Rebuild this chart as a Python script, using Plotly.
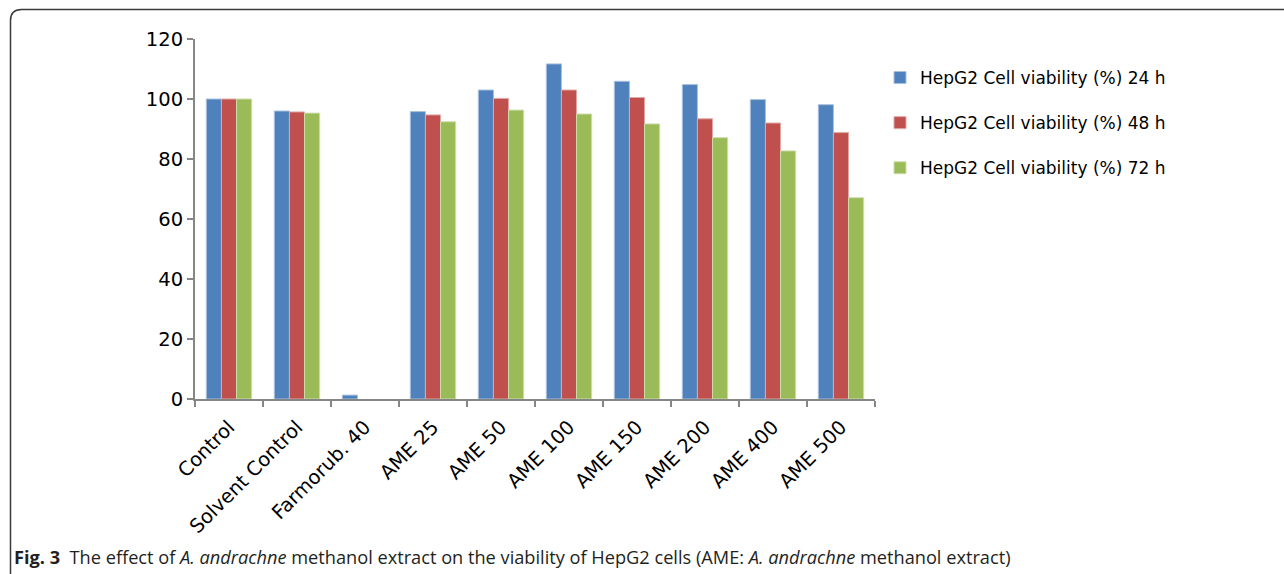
import plotly.graph_objects as go

# HepG2 viability by treatment and exposure time
categories = ["Control", "Solvent Control", "Farmorub. 40", "AME 25", "AME 50",
              "AME 100", "AME 150", "AME 200", "AME 400", "AME 500"]
viability_24h = [100.0, 96.0, 1.3, 95.8, 103.0, 111.7, 105.9, 104.8, 99.8, 98.1]
viability_48h = [100.0, 95.7, 0.0, 94.7, 100.2, 103.0, 100.5, 93.4, 92.0, 88.8]
viability_72h = [100.0, 95.3, 0.0, 92.4, 96.3, 95.0, 91.7, 87.1, 82.7, 67.1]
series_names = ["HepG2 Cell viability (%) 24 h",
                "HepG2 Cell viability (%) 48 h",
                "HepG2 Cell viability (%) 72 h"]
y_ticks = [0, 20, 40, 60, 80, 100, 120]

fills = ["#4F81BD", "#C0504D", "#9BBB59"]
edges = ["#A7C0DE", "#E0A8A6", "#CDDDAC"]

W, H = 1284, 574
L, R, T, B = 195, 875, 39, 399  # plot area in pixels

FONT = "DejaVu Sans, Lato, sans-serif"

fig = go.Figure()
for i, (name, vals) in enumerate(zip(series_names, [viability_24h, viability_48h, viability_72h])):
    fig.add_trace(go.Bar(
        x=categories, y=vals, name=name, legendgroup=f"g{i}",
        marker=dict(color=fills[i],
                    line=dict(color=edges[i], width=[1 if v > 0 else 0 for v in vals])),
    ))

axis_col = "#868686"


def px(x):
    return (x - L) / (R - L)


def py(y):
    return (B - y) / (B - T)


fig.update_layout(
    width=W, height=H,
    margin=dict(l=L, r=W - R, t=T, b=H - B, pad=0),
    paper_bgcolor="white", plot_bgcolor="white",
    barmode="group", bargap=0.333, bargroupgap=0,
    font=dict(family=FONT, size=18, color="#000000"),
    showlegend=True,
    legend=dict(
        x=px(880), y=py(60), xanchor="left", yanchor="top",
        font=dict(size=17, family=FONT),
        tracegroupgap=20, itemwidth=30, bgcolor="rgba(0,0,0,0)",
    ),
    xaxis=dict(
        showline=True, linecolor=axis_col, linewidth=2,
        ticks="outside", ticklen=6, tickcolor=axis_col, tickwidth=2,
        tickson="boundaries", tickangle=-45, showgrid=False,
        tickfont=dict(size=19.5), ticklabelstandoff=7,
    ),
    yaxis=dict(
        range=[0, 120], tickvals=y_ticks, showline=True, linecolor=axis_col,
        linewidth=2, ticks="outside", ticklen=6, tickcolor=axis_col, tickwidth=2,
        showgrid=False, zeroline=False, tickfont=dict(size=19.5),
    ),
)

# rounded frame around the figure (top and left edges)
r = 11
frame = (f"M {px(10.5)} {py(H + 5)} L {px(10.5)} {py(9.5 + r)} "
         f"Q {px(10.5)} {py(9.5)} {px(10.5 + r)} {py(9.5)} L {px(W + 5)} {py(9.5)}")
fig.add_shape(type="path", xref="paper", yref="paper", path=frame,
              line=dict(color="#3a3a3a", width=1.5), layer="above")

caption = ("<b>Fig. 3</b>  The effect of <i>A. andrachne</i> methanol extract on the "
           "viability of HepG2 cells (AME: <i>A. andrachne</i> methanol extract)")
fig.add_annotation(
    text=caption, xref="paper", yref="paper", x=px(12), y=py(557),
    xanchor="left", yanchor="middle", showarrow=False,
    font=dict(family="Open Sans, sans-serif", size=18.2, color="#231F20"),
)

fig.write_html("out.html")
